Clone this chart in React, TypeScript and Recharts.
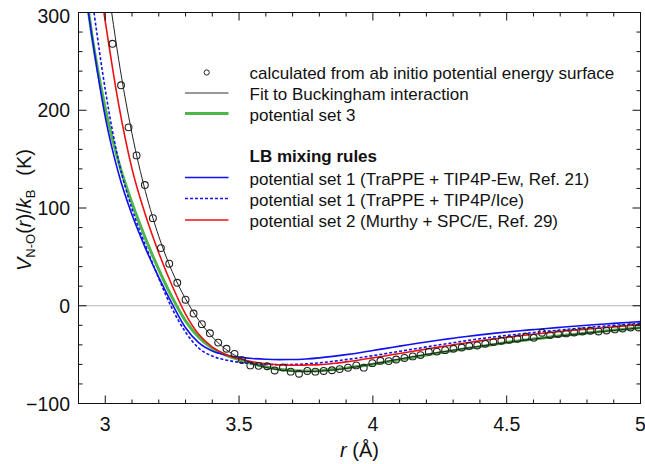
import React from 'react';
import { ComposedChart, Line, Scatter, XAxis, YAxis, ReferenceLine } from 'recharts';

const FONT = '"Liberation Sans", Arial, Helvetica, sans-serif';

// ab initio points (circles)
const abInitioR = [
  3.027, 3.059, 3.087, 3.117, 3.148, 3.178, 3.208, 3.239, 3.269, 3.3,
  3.33, 3.361, 3.391, 3.422, 3.453, 3.483, 3.511, 3.542, 3.573, 3.605,
  3.633, 3.664, 3.693, 3.724, 3.755, 3.785, 3.816, 3.847, 3.876, 3.907,
  3.938, 3.966, 3.998, 4.028, 4.059, 4.087, 4.118, 4.149, 4.178, 4.209,
  4.239, 4.27, 4.301, 4.332, 4.36, 4.39, 4.42, 4.45, 4.48, 4.51,
  4.54, 4.571, 4.601, 4.632, 4.662, 4.692, 4.722, 4.752, 4.783, 4.813,
  4.843, 4.873, 4.904, 4.933, 4.963, 4.993,
];
const abInitioV = [
  268, 225.5, 182.5, 153.8, 123.5, 89.6, 59, 43, 23.5, 6.2,
  -8, -18.8, -28.2, -37.7, -44, -49.2, -55.6, -61, -61.5, -61.9,
  -66.2, -63.1, -67.4, -69.5, -66.7, -67.4, -66.7, -66, -64.8, -63.4,
  -61, -63.3, -58.7, -56.3, -56.6, -55, -53.4, -51.8, -50.5, -47.1,
  -46.9, -45.4, -44, -42.7, -41.2, -40.6, -38.9, -37.2, -35.8, -34.8,
  -33.8, -31.7, -32.8, -27.6, -30, -29, -28.3, -27.3, -26.3, -25.6,
  -26.3, -25.3, -24.2, -23.2, -22.2, -22.2,
];

const rGrid = [
  3, 3.05, 3.1, 3.15, 3.2, 3.25, 3.3, 3.35, 3.4, 3.45,
  3.5, 3.55, 3.6, 3.65, 3.7, 3.75, 3.8, 3.85, 3.9, 3.95,
  4, 4.05, 4.1, 4.15, 4.2, 4.25, 4.3, 4.35, 4.4, 4.45,
  4.5, 4.55, 4.6, 4.65, 4.7, 4.75, 4.8, 4.85, 4.9, 4.95, 5,
];

// Buckingham fit (starts at 3.024, then rGrid from 3.05)
const fitR = [3.024, ...rGrid.slice(1)];
const fitV = [
  300, 252, 176, 117, 71, 35, 7, -15, -31.9, -44.5,
  -53, -59, -63, -65.6, -66.9, -67.3, -66.9, -65.8, -64.2, -62,
  -59.5, -57, -54.5, -52.1, -49.8, -47.6, -45.5, -43.4, -41.4, -39.5,
  -37.7, -35.9, -34.2, -32.6, -31, -29.5, -28, -26.6, -25.2, -23.9, -22.6,
];

// potential set 3
const set3R = [2.938, 2.95, ...rGrid];
const set3V = [
  300, 277,
  202, 147, 105, 69, 37, 8.6, -15.4, -32.4, -43.4, -50.4,
  -55.2, -59.3, -62.6, -65, -66.4, -66.8, -66.4, -65.3, -63.8, -61.9,
  -59.8, -57.5, -55.1, -52.7, -50.4, -48.1, -45.9, -43.8, -41.8, -39.7,
  -37.6, -35.8, -34, -32.4, -30.8, -29.3, -27.8, -26.4, -25, -23.7, -22.4,
];

// potential set 1 (TraPPE + TIP4P-Ew)
const set1EwR = [2.937, 2.95, ...rGrid];
const set1EwV = [
  300, 276,
  193, 135, 93, 59, 29, 2, -22.5, -38, -46.2, -50.3,
  -52.6, -54, -54.8, -55.1, -55, -54.4, -53.3, -51.8, -50, -48,
  -45.7, -43.6, -41.3, -39.2, -37, -35, -33.2, -31.4, -29.8, -28.3,
  -26.9, -25.6, -24.4, -23.2, -22.1, -21, -20, -19, -18, -17.1, -16.2,
];

// potential set 1 (TraPPE + TIP4P/Ice)
const set1IceR = [2.958, ...rGrid];
const set1IceV = [
  300,
  221, 148, 99, 62, 28, -3, -27, -43.5, -51.5, -55.5,
  -57.8, -59.3, -60.1, -60.3, -60.1, -59.5, -58.4, -56.9, -55.1, -53.2,
  -51, -48.9, -46.6, -44.4, -42.1, -39.9, -37.8, -35.7, -33.8, -32,
  -30.4, -28.9, -27.5, -26.1, -24.8, -23.5, -22.3, -21.1, -20, -19, -18,
];

// potential set 2 (Murthy + SPC/E)
const set2R = [2.995, ...rGrid];
const set2V = [
  300,
  291, 206, 140, 93, 54, 20.5, -8.5, -29.5, -42.3, -49.8,
  -54.2, -57.3, -59.4, -60.5, -60.9, -60.7, -60.2, -59, -57.4, -55.5,
  -53.3, -51.1, -48.8, -46.6, -44.3, -42.1, -40, -37.9, -35.9, -34,
  -32.3, -30.7, -29.2, -27.8, -26.4, -25.1, -23.9, -22.7, -21.6, -20.5, -19.5,
];

const xTicks = [2.9, 3, 3.1, 3.2, 3.3, 3.4, 3.5, 3.6, 3.7, 3.8, 3.9, 4, 4.1, 4.2, 4.3, 4.4, 4.5, 4.6, 4.7, 4.8, 4.9, 5];
const xMajor = [3, 3.5, 4, 4.5, 5];
const yTicks = [-100, -80, -60, -40, -20, 0, 20, 40, 60, 80, 100, 120, 140, 160, 180, 200, 220, 240, 260, 280, 300];
const yMajor = [-100, 0, 100, 200, 300];

const toPoints = (r: number[], v: number[]) => r.map((x, i) => ({ r: x, v: v[i] }));

const isMajor = (value: number, majors: number[]) => majors.some((m) => Math.abs(m - value) < 1e-6);

const AXIS = '#111';

const BottomTick = (props: any) => {
  const { x, y, payload } = props;
  const major = isMajor(payload.value, xMajor);
  return (
    <g>
      <line x1={x} y1={y} x2={x} y2={y - (major ? 8 : 4)} stroke={AXIS} />
      {major && (
        <text x={x} y={y + 27} textAnchor="middle" fontSize={19.5} fontFamily={FONT} fill={AXIS}>
          {payload.value}
        </text>
      )}
    </g>
  );
};

const TopTick = (props: any) => {
  const { x, y, payload } = props;
  const major = isMajor(payload.value, xMajor);
  return <line x1={x} y1={y} x2={x} y2={y + (major ? 8 : 4)} stroke={AXIS} />;
};

const LeftTick = (props: any) => {
  const { x, y, payload } = props;
  const v = payload.value;
  const major = isMajor(v, yMajor);
  const label = v < 0 ? `\u2212${Math.abs(v)}` : `${v}`;
  return (
    <g>
      <line x1={x} y1={y} x2={x + (major ? 8 : 4)} y2={y} stroke={AXIS} />
      {major && (
        <text x={x - 8.5} y={y + 7 + (v === 300 ? 3.5 : 0)} textAnchor="end" fontSize={19.5} fontFamily={FONT} fill={AXIS}>
          {label}
        </text>
      )}
    </g>
  );
};

const RightTick = (props: any) => {
  const { x, y, payload } = props;
  const major = isMajor(payload.value, yMajor);
  return <line x1={x} y1={y} x2={x - (major ? 8 : 4)} y2={y} stroke={AXIS} />;
};

const XTitle = ({ viewBox }: any) => {
  const cx = viewBox.x + viewBox.width / 2;
  return (
    <text x={cx} y={viewBox.y + 53.5} textAnchor="middle" fontSize={20} fontFamily={FONT} fill={AXIS}>
      <tspan fontStyle="italic">r</tspan> (Å)
    </text>
  );
};

const YTitle = ({ viewBox }: any) => {
  const cx = viewBox.x + 30;
  const cy = viewBox.y + viewBox.height / 2 + 2;
  return (
    <text transform={`translate(${cx},${cy}) rotate(-90)`} textAnchor="middle" fontSize={20} fontFamily={FONT} fill={AXIS}>
      <tspan fontStyle="italic">V</tspan>
      <tspan fontSize={13} dy={4}>N-O</tspan>
      <tspan dy={-4}>(</tspan>
      <tspan fontStyle="italic">r</tspan>
      <tspan>)/</tspan>
      <tspan fontStyle="italic">k</tspan>
      <tspan fontSize={13} dy={4}>B</tspan>
      <tspan dy={-4} dx={14}>(K)</tspan>
    </text>
  );
};

const Ring = (p: any) => <circle cx={p.cx} cy={p.cy} r={3.4} fill="none" stroke="#222" strokeWidth={1.1} />;

const legendRows = [
  { kind: 'dot', y: 72.5, base: 78.5, text: 'calculated from ab initio potential energy surface' },
  { kind: 'line', color: '#333', width: 1, dash: undefined, y: 93, base: 99.5, text: 'Fit to Buckingham interaction' },
  { kind: 'line', color: '#4cb748', width: 3, dash: undefined, y: 113.5, base: 120.5, text: 'potential set 3' },
  { kind: 'head', y: 156, base: 162, text: 'LB mixing rules' },
  { kind: 'line', color: '#1010f0', width: 1.6, dash: undefined, y: 177.5, base: 184.5, text: 'potential set 1 (TraPPE + TIP4P-Ew, Ref. 21)' },
  { kind: 'line', color: '#1010f0', width: 1.6, dash: '3 2', y: 198.5, base: 205.5, text: 'potential set 1 (TraPPE + TIP4P/Ice)' },
  { kind: 'line', color: '#f01010', width: 1.6, dash: undefined, y: 220, base: 226.5, text: 'potential set 2 (Murthy + SPC/E, Ref. 29)' },
];

const LegendBox = () => (
  <svg width={645} height={464} style={{ position: 'absolute', left: 0, top: 0, pointerEvents: 'none' }}>
    {legendRows.map((row, i) => (
      <g key={i}>
        {row.kind === 'dot' && <circle cx={206.7} cy={row.y} r={2.6} fill="none" stroke="#222" />}
        {row.kind === 'line' && (
          <line x1={185} x2={228.5} y1={row.y} y2={row.y} stroke={row.color} strokeWidth={row.width} strokeDasharray={row.dash} />
        )}
        <text x={249.5} y={row.base} fontSize={17} fontFamily={FONT} fontWeight={row.kind === 'head' ? 'bold' : 'normal'} fill="#111">
          {row.text}
        </text>
      </g>
    ))}
  </svg>
);

export default function App() {
  const fitPts = toPoints(fitR, fitV);
  return (
    <div style={{ position: 'absolute', left: 0, top: 0, width: 645, height: 464, background: '#fff' }}>
      <ComposedChart width={645} height={464} margin={{ top: 11.5, right: 3.5, bottom: 0, left: 0.5 }}>
        <XAxis
          dataKey="r"
          type="number"
          domain={[2.9, 5]}
          allowDataOverflow
          ticks={xTicks}
          interval={0}
          height={60.5}
          tickSize={0}
          tickMargin={0}
          tick={<BottomTick />}
          tickLine={false}
          axisLine={{ stroke: AXIS }}
          label={{ content: (p: any) => <XTitle {...p} /> }}
        />
        <XAxis
          xAxisId="top"
          dataKey="r"
          orientation="top"
          type="number"
          domain={[2.9, 5]}
          allowDataOverflow
          ticks={xTicks}
          interval={0}
          height={1}
          tickSize={0}
          tickMargin={0}
          tick={<TopTick />}
          tickLine={false}
          axisLine={{ stroke: AXIS }}
        />
        <YAxis
          type="number"
          domain={[-100, 300]}
          allowDataOverflow
          ticks={yTicks}
          interval={0}
          width={78}
          tickSize={0}
          tickMargin={0}
          tick={<LeftTick />}
          tickLine={false}
          axisLine={{ stroke: AXIS }}
          label={{ content: (p: any) => <YTitle {...p} /> }}
        />
        <YAxis
          yAxisId="right"
          orientation="right"
          type="number"
          domain={[-100, 300]}
          allowDataOverflow
          ticks={yTicks}
          interval={0}
          width={1}
          tickSize={0}
          tickMargin={0}
          tick={<RightTick />}
          tickLine={false}
          axisLine={{ stroke: AXIS }}
        />
        <ReferenceLine y={0} stroke="#b5b5b5" strokeWidth={1} />
        {/* invisible copy that only anchors the top and right frame axes */}
        <Line xAxisId="top" yAxisId="right" data={fitPts} dataKey="v" stroke="none" dot={false} activeDot={false} legendType="none" isAnimationActive={false} />
        <Line data={toPoints(set3R, set3V)} dataKey="v" type="monotone" stroke="#4cb748" strokeWidth={3} dot={false} isAnimationActive={false} />
        <Line data={toPoints(set1EwR, set1EwV)} dataKey="v" type="monotone" stroke="#1010f0" strokeWidth={1.6} dot={false} isAnimationActive={false} />
        <Line data={toPoints(set1IceR, set1IceV)} dataKey="v" type="monotone" stroke="#1010f0" strokeWidth={1.6} strokeDasharray="3 2" dot={false} isAnimationActive={false} />
        <Line data={toPoints(set2R, set2V)} dataKey="v" type="monotone" stroke="#f01010" strokeWidth={1.6} dot={false} isAnimationActive={false} />
        <Line data={fitPts} dataKey="v" type="monotone" stroke="#222" strokeWidth={1} dot={false} isAnimationActive={false} />
        <Scatter data={toPoints(abInitioR, abInitioV)} dataKey="v" shape={Ring} isAnimationActive={false} />
      </ComposedChart>
      <LegendBox />
    </div>
  );
}
